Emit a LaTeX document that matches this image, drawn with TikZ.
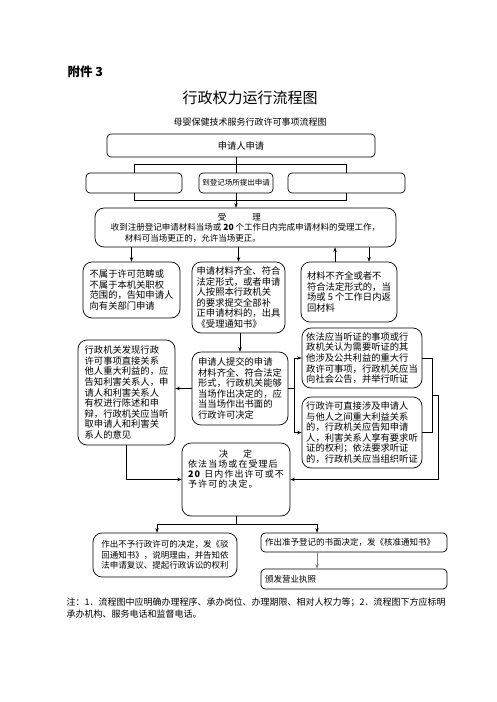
\documentclass[tikz,border=0pt]{standalone}
\usepackage{fontspec}
\setmainfont{Noto Sans CJK SC}
\usetikzlibrary{arrows.meta, positioning, calc}
\tikzset{
    procbox/.style={
        rectangle,
        draw=black,
        line width=0.7pt,
        rounded corners=9pt,
        align=left,
        inner sep=2pt,
        font=\fontsize{9.3}{10.6}\selectfont
    },
    slimbox/.style={
        procbox,
        rounded corners=4pt
    },
    link/.style={
        draw=black,
        line width=0.7pt
    },
    wire/.style={
        link,
        -{Stealth[length=4.5pt,width=3.5pt]}
    }
}
\begin{document}
\begin{tikzpicture}[x=1pt, y=-1pt]

\fill[white] (0,0) rectangle (496,702);
\useasboundingbox (0,0) rectangle (496,702);

% Headings
\node[anchor=west, font=\fontsize{12.5}{14}\selectfont\bfseries] (annex) at (64,72) {附件 3};
\node[font=\fontsize{15}{17}\selectfont] (title) at (250,98) {行政权力运行流程图};
\node[font=\fontsize{9}{11}\selectfont] (subtitle) at (250,122) {母婴保健技术服务行政许可事项流程图};

% Application
\node[slimbox, align=center, minimum width=268pt, minimum height=23pt] (apply) at (241,145.5) {申请人申请};
\node[slimbox, minimum width=96pt, minimum height=20pt] (reg_l) at (134,183) {};
\node[slimbox, minimum width=74pt, minimum height=20pt, font=\fontsize{7.5}{9}\selectfont] (reg_m) at (236,183) {到登记场所提出申请};
\node[slimbox, minimum width=117pt, minimum height=20pt] (reg_r) at (346.5,183) {};

\draw[link] (apply.south -| reg_m.north) -- (reg_m.north);
\draw[link] (reg_l.north) -- ++(0,-8) -| (reg_r.north);
\draw[link] (reg_l.south) -- ++(0,7) -| (reg_r.south);

% Acceptance
\node[procbox, minimum width=301pt, minimum height=39pt, font=\fontsize{8.5}{10.5}\selectfont] (accept) at (245.5,227.5) {
\hspace*{107pt}受\hspace{26pt}理\\
收到注册登记申请材料当场或 \textbf{20} 个工作日内完成申请材料的受理工作，\\
\hspace*{14pt}材料可当场更正的，允许当场更正。};
\draw[wire] (reg_m.south) -- (reg_m.south |- accept.north);

\node[procbox, minimum width=97pt, minimum height=56pt] (out_l) at (131.5,290) {
不属于许可范畴或\\不属于本机关职权\\范围的，告知申请人\\向有关部门申请};
\node[procbox, minimum width=93pt, minimum height=71pt] (ok_m) at (238.5,297.5) {
申请材料齐全、符合\\法定形式，或者申请\\人按照本行政机关\\的要求提交全部补\\正申请材料的，出具\\《受理通知书》};
\node[procbox, minimum width=96pt, minimum height=60pt] (ret_r) at (349,292) {
材料不齐全或者不\\符合法定形式的，当\\场或 5 个工作日内返\\回材料};

\draw[wire] (accept.south -| out_l.north) -- (out_l.north);
\draw[wire] (accept.south -| ok_m.north) -- (ok_m.north);
\draw[wire] ([xshift=-14pt]ret_r.north) -- ([xshift=-14pt]ret_r.north |- accept.south);
\draw[wire] ([xshift=20pt]ret_r.north |- accept.south) -- ([xshift=20pt]ret_r.north);

% Hearing
\node[procbox, minimum width=97pt, minimum height=105pt] (hear_l) at (126.5,392.5) {
行政机关发现行政\\许可事项直接关系\\他人重大利益的，应\\告知利害关系人，申\\请人和利害关系人\\有权进行陈述和申\\辩，行政机关应当听\\取申请人和利害关\\系人的意见};
\node[procbox, minimum width=96pt, minimum height=73pt] (sub_m) at (240,388.5) {
申请人提交的申请\\材料齐全、符合法定\\形式，行政机关能够\\当场作出决定的，应\\当当场作出书面的\\行政许可决定};
\node[procbox, minimum width=120pt, minimum height=60pt] (hear_t) at (362,358) {
依法应当听证的事项或行\\政机关认为需要听证的其\\他涉及公共利益的重大行\\政许可事项，行政机关应当\\向社会公告，并举行听证};
\node[procbox, minimum width=120pt, minimum height=71pt] (hear_b) at (362,432.5) {
行政许可直接涉及申请人\\与他人之间重大利益关系\\的，行政机关应告知申请\\人，利害关系人享有要求听\\证的权利；依法要求听证\\的，行政机关应当组织听证};

\draw[wire] (ok_m.south -| sub_m.north) -- (sub_m.north);
\draw[wire] (sub_m.west) -- (sub_m.west -| hear_l.east);
\draw[wire] (sub_m.east) -- ++(6,0) |- (hear_t.west);
\draw[wire] (sub_m.east) -- ++(6,0) |- (hear_b.west);

% Decision
\node[procbox, minimum width=108pt, minimum height=73pt] (decide) at (236,479.5) {};
\node[font=\fontsize{9}{10}\selectfont\addfontfeature{LetterSpace=12}, align=left, below=4pt of decide.north] (decide_txt) {
\hspace*{31pt}决\hspace{15pt}定\\依法当场或在受理后\\\textbf{20} 日内作出许可或不\\予许可的决定。};

\draw[link] (hear_t.east) -- ++(10,0) coordinate (rb_t) -- (rb_t |- hear_b.east) -- (hear_b.east);
\coordinate (rb_m) at ($(rb_t)!0.5!(rb_t |- hear_b.east)$);
\draw[wire] (rb_m) -- ++(6,0) |- (decide.east);
\draw[wire] (hear_l.south) |- (decide.west);

% Results
\node[procbox, minimum width=144pt, minimum height=44pt, font=\fontsize{8.5}{10.6}\selectfont] (deny) at (165,555) {
作出不予行政许可的决定，发《驳\\回通知书》，说明理由，并告知依\\法申请复议、提起行政诉讼的权利};
\node[slimbox, minimum width=186pt, minimum height=19pt, text width=178pt, font=\fontsize{8.5}{10}\selectfont] (grant) at (354,542.5) {作出准予登记的书面决定，发《核准通知书》};
\node[slimbox, minimum width=186pt, minimum height=20pt, text width=178pt, font=\fontsize{8.5}{10}\selectfont] (licence) at (354,579) {颁发营业执照};

\draw[link] (decide.south) -- ++(0,8) coordinate (split);
\draw[wire] (split) -| ([xshift=-8pt]deny.north);
\draw[wire] (split) -| ([xshift=-37pt]grant.north);
\draw[wire, draw=gray] ([xshift=-37pt]grant.south) -- ([xshift=-37pt]licence.north);

% Note
\node[anchor=north west, align=left, font=\fontsize{9}{12}\selectfont] (note) at (63,594) {
注：1．流程图中应明确办理程序、承办岗位、办理期限、相对人权力等；2．流程图下方应标明\\承办机构、服务电话和监督电话。};

\end{tikzpicture}
\end{document}
